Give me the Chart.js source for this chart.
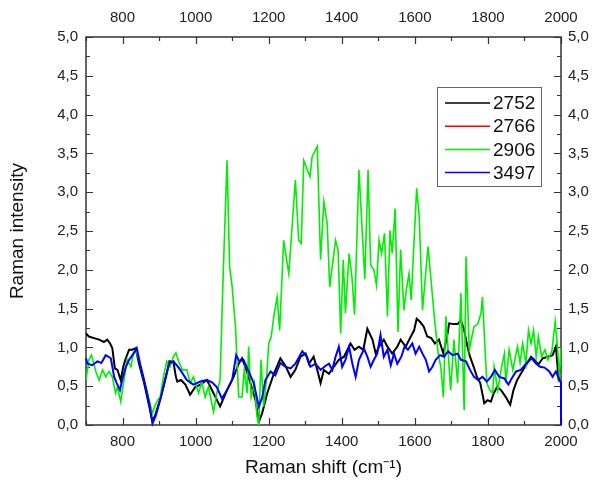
<!DOCTYPE html>
<html>
<head>
<meta charset="utf-8">
<script src="https://cdn.jsdelivr.net/npm/chart.js@4/dist/chart.umd.min.js"></script>
<style>
	html, body { margin: 0; padding: 0; background: #fff; }
	canvas { display: block; }
</style>
</head>
<body>
<canvas id="ramanChart" width="595" height="483"></canvas>
<script>
// Raman shift (cm-1) / intensity pairs
const shift2752 = [700, 708, 722, 736, 749, 758, 766, 772, 779, 786, 795, 802, 809, 818, 827, 836, 845, 859, 873, 882, 891, 905, 919, 928, 939, 946, 950, 960, 972, 985, 999, 1013, 1031, 1049, 1067, 1086, 1104, 1118, 1127, 1136, 1150, 1164, 1173, 1182, 1196, 1214, 1232, 1246, 1260, 1273, 1287, 1301, 1310, 1323, 1333, 1342, 1351, 1365, 1378, 1392, 1406, 1424, 1435, 1447, 1459, 1470, 1484, 1493, 1502, 1515, 1525, 1538, 1552, 1561, 1575, 1589, 1598, 1605, 1614, 1624, 1634, 1645, 1655, 1666, 1678, 1688, 1694, 1706, 1717, 1726, 1735, 1744, 1751, 1761, 1770, 1779, 1790, 1799, 1808, 1816, 1825, 1836, 1849, 1861, 1870, 1880, 1890, 1904, 1918, 1927, 1938, 1950, 1964, 1977, 1986, 1993, 2000];
const int2752 = [1.18, 1.14, 1.12, 1.10, 1.07, 1.10, 1.05, 0.99, 0.73, 0.71, 0.58, 0.75, 0.86, 0.97, 0.97, 0.99, 0.79, 0.54, 0.24, 0.04, 0.15, 0.36, 0.62, 0.82, 0.82, 0.62, 0.56, 0.58, 0.52, 0.39, 0.49, 0.52, 0.58, 0.41, 0.24, 0.45, 0.62, 0.79, 0.86, 0.75, 0.54, 0.32, 0.04, 0.15, 0.41, 0.66, 0.86, 0.76, 0.62, 0.71, 0.88, 0.92, 0.79, 0.88, 0.71, 0.54, 0.71, 0.66, 0.75, 0.84, 0.88, 1.05, 0.97, 1.01, 0.97, 1.24, 1.10, 0.92, 1.01, 1.10, 1.01, 0.92, 1.01, 1.10, 1.01, 1.14, 1.22, 1.37, 1.33, 1.27, 1.14, 1.12, 1.05, 1.10, 0.92, 1.14, 1.31, 1.30, 1.30, 1.35, 1.22, 1.01, 0.88, 0.75, 0.62, 0.54, 0.28, 0.32, 0.30, 0.41, 0.49, 0.45, 0.36, 0.26, 0.45, 0.58, 0.66, 0.77, 0.88, 0.84, 0.78, 0.86, 0.88, 0.90, 1.01, 0.62, 0.76];

const shift2766 = [];
const int2766 = [];

const shift2906 = [700, 708, 715, 727, 736, 745, 754, 763, 772, 781, 786, 795, 804, 813, 823, 830, 836, 845, 854, 864, 873, 882, 888, 896, 903, 912, 921, 930, 939, 946, 955, 964, 976, 985, 994, 1008, 1017, 1026, 1035, 1049, 1058, 1067, 1075, 1086, 1093, 1100, 1109, 1118, 1127, 1133, 1141, 1145, 1152, 1161, 1168, 1173, 1179, 1186, 1194, 1200, 1207, 1214, 1223, 1230, 1241, 1255, 1273, 1282, 1289, 1296, 1305, 1313, 1319, 1333, 1342, 1351, 1360, 1367, 1383, 1390, 1397, 1404, 1410, 1420, 1428, 1435, 1447, 1463, 1472, 1479, 1488, 1495, 1502, 1509, 1517, 1525, 1532, 1538, 1546, 1554, 1561, 1570, 1577, 1584, 1590, 1605, 1612, 1621, 1636, 1645, 1655, 1664, 1671, 1678, 1685, 1698, 1707, 1717, 1726, 1735, 1740, 1749, 1762, 1772, 1781, 1785, 1790, 1797, 1805, 1813, 1817, 1827, 1836, 1845, 1849, 1858, 1868, 1881, 1888, 1895, 1904, 1911, 1918, 1925, 1932, 1938, 1947, 1956, 1964, 1975, 1984, 1991, 1996, 2000];
const int2906 = [0.58, 0.84, 0.90, 0.69, 0.58, 0.71, 0.62, 0.69, 0.62, 0.41, 0.49, 0.30, 0.58, 0.84, 0.75, 0.93, 0.97, 0.84, 0.67, 0.49, 0.32, 0.15, 0.24, 0.32, 0.36, 0.62, 0.82, 0.75, 0.88, 0.93, 0.80, 0.71, 0.71, 0.54, 0.62, 0.41, 0.56, 0.36, 0.49, 0.17, 0.41, 0.58, 1.87, 3.41, 2.04, 1.78, 1.27, 0.36, 0.36, 0.71, 0.41, 1.01, 0.36, 0.54, 0.11, 0.00, 0.84, 0.24, 0.58, 1.05, 1.14, 1.40, 1.65, 1.22, 2.38, 1.95, 3.16, 2.38, 2.34, 3.41, 3.30, 3.20, 3.46, 3.59, 2.13, 2.88, 2.60, 1.78, 2.38, 2.25, 1.18, 2.13, 1.44, 2.21, 1.90, 1.42, 3.29, 1.88, 3.29, 2.06, 2.00, 1.80, 2.38, 2.21, 2.47, 1.40, 2.51, 2.21, 2.79, 1.20, 2.26, 1.48, 1.75, 1.95, 1.61, 3.05, 2.68, 1.48, 2.30, 1.83, 1.31, 0.92, 0.75, 0.36, 1.40, 0.45, 1.10, 0.54, 1.70, 0.19, 2.17, 0.97, 1.27, 1.30, 1.44, 1.65, 1.18, 0.54, 0.45, 0.41, 0.75, 0.45, 0.71, 0.92, 0.54, 0.97, 0.71, 1.01, 0.80, 1.05, 0.79, 1.22, 1.05, 1.22, 0.88, 1.14, 0.88, 0.97, 0.84, 0.95, 1.33, 0.97, 0.60, 1.00];

const shift3497 = [700, 704, 717, 731, 742, 754, 768, 777, 784, 793, 800, 809, 818, 830, 839, 848, 859, 873, 882, 891, 905, 919, 928, 939, 952, 958, 976, 994, 1013, 1031, 1045, 1058, 1072, 1086, 1100, 1111, 1120, 1131, 1145, 1159, 1173, 1182, 1191, 1205, 1218, 1232, 1246, 1260, 1273, 1292, 1305, 1314, 1328, 1342, 1355, 1365, 1374, 1383, 1392, 1401, 1410, 1420, 1429, 1438, 1447, 1461, 1470, 1479, 1488, 1497, 1506, 1515, 1525, 1534, 1543, 1552, 1563, 1572, 1581, 1593, 1602, 1612, 1621, 1630, 1639, 1648, 1657, 1669, 1680, 1691, 1703, 1717, 1726, 1740, 1751, 1762, 1773, 1785, 1797, 1808, 1819, 1831, 1845, 1856, 1865, 1877, 1890, 1904, 1920, 1932, 1943, 1955, 1968, 1977, 1986, 1996, 2000, 2000];
const int3497 = [0.86, 0.79, 0.77, 0.82, 0.80, 0.90, 0.86, 0.62, 0.54, 0.45, 0.60, 0.75, 0.84, 0.92, 0.99, 0.79, 0.58, 0.28, 0.02, 0.12, 0.36, 0.64, 0.79, 0.82, 0.75, 0.71, 0.58, 0.52, 0.56, 0.58, 0.55, 0.49, 0.34, 0.45, 0.58, 0.90, 0.82, 0.84, 0.69, 0.54, 0.24, 0.35, 0.58, 0.69, 0.64, 0.80, 0.75, 0.73, 0.79, 0.95, 0.88, 0.75, 0.79, 0.71, 0.76, 0.79, 0.71, 0.88, 1.01, 0.75, 0.84, 1.01, 0.79, 0.62, 0.84, 0.98, 0.88, 0.75, 0.84, 0.92, 1.16, 0.88, 0.97, 0.77, 0.92, 0.79, 0.88, 1.01, 0.97, 1.05, 0.92, 1.01, 0.92, 0.84, 0.69, 0.75, 0.84, 0.90, 0.88, 0.95, 0.90, 0.92, 0.84, 0.82, 0.71, 0.62, 0.58, 0.62, 0.56, 0.62, 0.71, 0.62, 0.60, 0.52, 0.60, 0.69, 0.71, 0.79, 0.86, 0.79, 0.75, 0.74, 0.69, 0.62, 0.69, 0.58, 0.54, 0.00];

const seriesNames = ['2752', '2766', '2906', '3497'];
const seriesColors = ['#000000', '#ff0000', '#00ee00', '#0000ff'];

const xTicks = [800, 1000, 1200, 1400, 1600, 1800, 2000];
const yTicks = [0, 0.5, 1, 1.5, 2, 2.5, 3, 3.5, 4, 4.5, 5];

const FONT = "'Liberation Sans', Arial, sans-serif";

function toPoints(xs, ys) {
	return xs.map((x, i) => ({ x: x, y: ys[i] }));
}

function fmtX(v) {
	return String(v);
}

function fmtY(v) {
	return Number(v).toFixed(1).replace('.', ',');
}

// box frame + inward ticks like the original plot
const frameTicks = {
	id: 'frameTicks',
	beforeDatasetsDraw(chart) {
		const { ctx, chartArea: a } = chart;
		const sx = chart.scales.x, sy = chart.scales.y;
		ctx.save();
		ctx.strokeStyle = '#333';
		ctx.lineWidth = 1.5;
		ctx.strokeRect(a.left, a.top, a.right - a.left, a.bottom - a.top);
		ctx.lineWidth = 1.2;
		ctx.beginPath();
		for (let v = 700; v <= 2000; v += 100) {
			const px = Math.round(sx.getPixelForValue(v)) + 0.5;
			const len = v % 200 === 0 ? 7 : 4;
			ctx.moveTo(px, a.bottom); ctx.lineTo(px, a.bottom - len);
			ctx.moveTo(px, a.top); ctx.lineTo(px, a.top + len);
		}
		for (let v = 0; v <= 5.001; v += 0.25) {
			const py = Math.round(sy.getPixelForValue(v)) + 0.5;
			const len = Math.abs(v * 2 - Math.round(v * 2)) < 0.01 ? 7 : 4;
			ctx.moveTo(a.left, py); ctx.lineTo(a.left + len, py);
			ctx.moveTo(a.right, py); ctx.lineTo(a.right - len, py);
		}
		ctx.stroke();
		ctx.restore();
	},
	afterDraw(chart) {
		// legend box in the upper right
		const { ctx } = chart;
		const bx = 437, by = 87, bw = 104, bh = 99;
		ctx.save();
		ctx.fillStyle = '#fff';
		ctx.fillRect(bx, by, bw, bh);
		ctx.strokeStyle = '#666';
		ctx.lineWidth = 1;
		ctx.strokeRect(bx + 0.5, by + 0.5, bw, bh);
		ctx.font = '19px ' + FONT;
		ctx.textBaseline = 'middle';
		ctx.textAlign = 'left';
		seriesNames.forEach((name, i) => {
			const y = by + 16 + i * 23.2;
			ctx.strokeStyle = seriesColors[i];
			ctx.lineWidth = 1.5;
			ctx.beginPath();
			ctx.moveTo(445, y); ctx.lineTo(490, y);
			ctx.stroke();
			ctx.fillStyle = '#111';
			ctx.fillText(name, 493, y + 1);
		});
		ctx.restore();
	}
};

const tickFont = { family: FONT, size: 15 };
const titleFont = { family: FONT, size: 19 };
const noGrid = { display: false, drawTicks: false };

new Chart(document.getElementById('ramanChart'), {
	type: 'line',
	data: {
		datasets: [
			{ label: seriesNames[0], data: toPoints(shift2752, int2752), borderColor: seriesColors[0], borderWidth: 2, order: 4 },
			{ label: seriesNames[1], data: toPoints(shift2766, int2766), borderColor: seriesColors[1], borderWidth: 2, order: 3 },
			{ label: seriesNames[2], data: toPoints(shift2906, int2906), borderColor: seriesColors[2], borderWidth: 1.6, order: 2 },
			{ label: seriesNames[3], data: toPoints(shift3497, int3497), borderColor: seriesColors[3], borderWidth: 2, order: 1, clip: 4 }
		]
	},
	options: {
		responsive: false,
		animation: false,
		layout: { padding: 0 },
		elements: {
			point: { radius: 0 },
			line: { tension: 0, fill: false }
		},
		scales: {
			x: {
				type: 'linear', position: 'bottom', min: 700, max: 2000,
				afterBuildTicks: s => { s.ticks = xTicks.map(v => ({ value: v })); },
				afterFit: s => { s.height = 58; },
				grid: noGrid, border: { display: false },
				ticks: { font: tickFont, color: '#222', padding: 8, maxRotation: 0, autoSkip: false, callback: fmtX },
				title: { display: true, text: 'Raman shift (cm⁻¹)', font: titleFont, color: '#111', padding: { top: 0, bottom: 4 } }
			},
			x2: {
				type: 'linear', position: 'top', min: 700, max: 2000,
				afterBuildTicks: s => { s.ticks = xTicks.map(v => ({ value: v })); },
				afterFit: s => { s.height = 37; },
				grid: noGrid, border: { display: false },
				ticks: { font: tickFont, color: '#222', padding: 10, maxRotation: 0, autoSkip: false, callback: fmtX }
			},
			y: {
				type: 'linear', position: 'left', min: 0, max: 5,
				afterBuildTicks: s => { s.ticks = yTicks.map(v => ({ value: v })); },
				afterFit: s => { s.width = 86; },
				grid: noGrid, border: { display: false },
				ticks: { font: tickFont, color: '#222', padding: 8, autoSkip: false, callback: fmtY },
				title: { display: true, text: 'Raman intensity', font: titleFont, color: '#111', padding: { top: 6, bottom: 0 } }
			},
			y2: {
				type: 'linear', position: 'right', min: 0, max: 5,
				afterBuildTicks: s => { s.ticks = yTicks.map(v => ({ value: v })); },
				afterFit: s => { s.width = 34; },
				grid: noGrid, border: { display: false },
				ticks: { font: tickFont, color: '#222', padding: 7, autoSkip: false, callback: fmtY }
			}
		},
		plugins: {
			legend: { display: false },
			tooltip: { enabled: false }
		}
	},
	plugins: [frameTicks]
});
</script>
</body>
</html>
